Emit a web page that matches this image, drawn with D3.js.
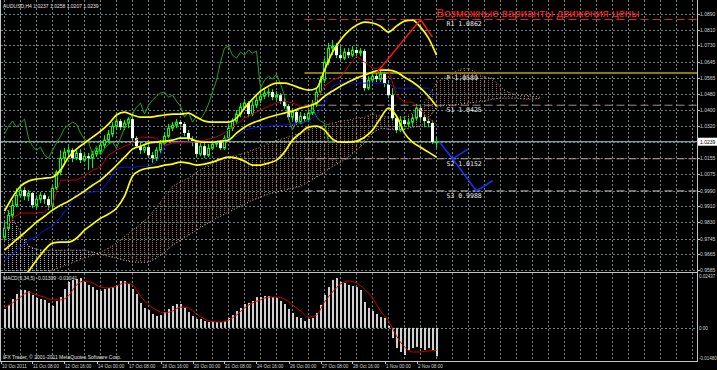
<!DOCTYPE html>
<html><head><meta charset="utf-8">
<script src="https://cdn.jsdelivr.net/npm/d3@7"></script>
<style>
html,body{margin:0;padding:0;background:#000;overflow:hidden}
svg{display:block}
</style></head><body>
<svg id="chart" width="717" height="370"></svg>
<script>
// ---------------- DATA ----------------
const chartTitle = "AUDUSD,H4  1.0237 1.0258 1.0207 1.0239";
const forecastTitle = "Возможные варианты движения цены";
const macdTitle = "MACD(5,34,5) -0.01309 -0.01041";
const copyrightText = "IFX Trader, © 2001-2011 MetaQuotes Software Corp.";

const xLabelBars = [0,8,16,24,32,40,48,56,64,72,80,88,96,104];
const xLabels = ["10 Oct 2011","11 Oct 08:00","12 Oct 16:00","14 Oct 00:00","17 Oct 08:00","18 Oct 16:00","20 Oct 00:00","21 Oct 08:00","24 Oct 16:00","26 Oct 00:00","27 Oct 08:00","28 Oct 16:00","1 Nov 00:00","2 Nov 08:00"];
const priceTicks = [1.0890,1.0810,1.0730,1.0645,1.0565,1.0480,1.0400,1.0320,1.0155,1.0075,0.9990,0.9910,0.9830,0.9745,0.9665,0.9585];
const currentPrice = 1.0239;
const macdTicks = [0.02437, 0.00, -0.01480];
const macdTickLabels = ["0.02437","0.00","-0.01480"];

const open = [0.9752,0.9798,0.9864,0.9915,0.9966,0.9992,0.9961,0.9977,0.9915,0.9946,
0.9966,0.9946,0.9915,1.0002,1.0084,1.0155,1.0186,1.0196,1.0155,1.0181,
1.0145,1.0165,1.0155,1.0176,1.0191,1.0221,1.0247,1.0278,1.0318,1.0344,
1.0313,1.0334,1.0354,1.0257,1.0216,1.0196,1.0211,1.0170,1.0155,1.0196,
1.0232,1.0267,1.0308,1.0323,1.0339,1.0329,1.0283,1.0252,1.0237,1.0176,
1.0216,1.0170,1.0206,1.0227,1.0237,1.0206,1.0257,1.0308,1.0344,1.0380,
1.0415,1.0436,1.0380,1.0425,1.0451,1.0471,1.0487,1.0492,1.0466,1.0476,
1.0446,1.0420,1.0364,1.0390,1.0339,1.0369,1.0354,1.0385,1.0431,1.0492,
1.0553,1.0645,1.0716,1.0726,1.0680,1.0665,1.0696,1.0680,1.0706,1.0691,
1.0701,1.0512,1.0553,1.0573,1.0558,1.0584,1.0533,1.0476,1.0359,1.0298,
1.0349,1.0329,1.0339,1.0359,1.0410,1.0364,1.0344,1.0334,1.0237];
const high = [0.9829,0.9890,0.9941,1.0002,1.0017,1.0007,0.9992,0.9982,0.9966,0.9982,
0.9977,0.9961,1.0012,1.0094,1.0196,1.0206,1.0216,1.0206,1.0196,1.0201,
1.0181,1.0181,1.0191,1.0206,1.0242,1.0272,1.0298,1.0339,1.0359,1.0354,
1.0349,1.0364,1.0364,1.0267,1.0237,1.0227,1.0221,1.0186,1.0211,1.0247,
1.0283,1.0329,1.0339,1.0354,1.0349,1.0339,1.0298,1.0267,1.0247,1.0232,
1.0232,1.0227,1.0242,1.0242,1.0247,1.0272,1.0329,1.0359,1.0400,1.0436,
1.0456,1.0446,1.0446,1.0471,1.0492,1.0507,1.0512,1.0507,1.0497,1.0487,
1.0461,1.0431,1.0410,1.0400,1.0390,1.0385,1.0400,1.0451,1.0512,1.0573,
1.0665,1.0742,1.0757,1.0742,1.0726,1.0716,1.0716,1.0726,1.0721,1.0716,
1.0711,1.0573,1.0594,1.0589,1.0599,1.0594,1.0553,1.0512,1.0375,1.0369,
1.0364,1.0354,1.0375,1.0431,1.0425,1.0380,1.0359,1.0349,1.0258];
const low = [0.9737,0.9788,0.9849,0.9905,0.9951,0.9941,0.9936,0.9900,0.9900,0.9926,
0.9921,0.9890,0.9890,0.9992,1.0068,1.0135,1.0165,1.0135,1.0145,1.0130,
1.0135,1.0094,1.0104,1.0160,1.0176,1.0206,1.0232,1.0262,1.0298,1.0298,
1.0298,1.0308,1.0247,1.0206,1.0176,1.0181,1.0155,1.0130,1.0140,1.0181,
1.0221,1.0257,1.0293,1.0308,1.0313,1.0267,1.0237,1.0216,1.0160,1.0165,
1.0155,1.0160,1.0196,1.0211,1.0196,1.0196,1.0247,1.0293,1.0329,1.0364,
1.0400,1.0364,1.0369,1.0410,1.0436,1.0456,1.0466,1.0451,1.0446,1.0431,
1.0405,1.0349,1.0349,1.0323,1.0329,1.0339,1.0339,1.0375,1.0415,1.0476,
1.0538,1.0629,1.0680,1.0665,1.0655,1.0655,1.0665,1.0670,1.0675,1.0675,
1.0497,1.0502,1.0538,1.0543,1.0543,1.0517,1.0461,1.0349,1.0283,1.0288,
1.0313,1.0313,1.0318,1.0349,1.0349,1.0313,1.0313,1.0227,1.0207];
const close = [0.9798,0.9864,0.9915,0.9966,0.9992,0.9961,0.9977,0.9915,0.9946,0.9966,
0.9946,0.9915,1.0002,1.0084,1.0155,1.0186,1.0196,1.0155,1.0181,1.0145,
1.0165,1.0155,1.0176,1.0191,1.0221,1.0247,1.0278,1.0318,1.0344,1.0313,
1.0334,1.0354,1.0257,1.0216,1.0196,1.0211,1.0170,1.0155,1.0196,1.0232,
1.0267,1.0308,1.0323,1.0339,1.0329,1.0283,1.0252,1.0237,1.0176,1.0216,
1.0170,1.0206,1.0227,1.0237,1.0206,1.0257,1.0308,1.0344,1.0380,1.0415,
1.0436,1.0380,1.0425,1.0451,1.0471,1.0487,1.0492,1.0466,1.0476,1.0446,
1.0420,1.0364,1.0390,1.0339,1.0369,1.0354,1.0385,1.0431,1.0492,1.0553,
1.0645,1.0716,1.0726,1.0680,1.0665,1.0696,1.0680,1.0706,1.0691,1.0701,
1.0512,1.0553,1.0573,1.0558,1.0584,1.0533,1.0476,1.0359,1.0298,1.0349,
1.0329,1.0339,1.0359,1.0410,1.0364,1.0344,1.0334,1.0237,1.0239];

// indicator samples, one value every 2 bars starting at bar 0
const bbUpper = [0.9885,0.9956,1.0012,1.0038,1.0048,1.0053,1.0058,1.0094,1.0160,1.0201,
1.0232,1.0262,1.0293,1.0329,1.0375,1.0390,1.0375,1.0364,1.0364,1.0369,
1.0375,1.0380,1.0380,1.0385,1.0364,1.0344,1.0339,1.0339,1.0339,1.0359,
1.0410,1.0456,1.0497,1.0522,1.0538,1.0538,1.0527,1.0512,1.0502,1.0512,
1.0604,1.0696,1.0757,1.0803,1.0833,1.0849,1.0844,1.0828,1.0798,1.0828,
1.0854,1.0859,1.0823,1.0767,1.0680];
const bbMiddle = [0.9686,0.9722,0.9757,0.9793,0.9829,0.9859,0.9890,0.9915,0.9936,0.9961,
0.9987,1.0017,1.0043,1.0079,1.0119,1.0160,1.0201,1.0216,1.0232,1.0237,
1.0242,1.0247,1.0257,1.0257,1.0242,1.0237,1.0237,1.0242,1.0247,1.0283,
1.0313,1.0334,1.0349,1.0364,1.0375,1.0385,1.0395,1.0410,1.0420,1.0436,
1.0471,1.0497,1.0522,1.0543,1.0563,1.0578,1.0594,1.0604,1.0604,1.0594,
1.0568,1.0543,1.0512,1.0471,1.0420];
const bbLower = [0.9431,0.9482,0.9528,0.9579,0.9635,0.9686,0.9722,0.9727,0.9727,0.9747,
0.9788,0.9819,0.9849,0.9870,0.9900,0.9961,1.0063,1.0094,1.0104,1.0109,
1.0120,1.0125,1.0135,1.0130,1.0120,1.0125,1.0135,1.0150,1.0160,1.0155,
1.0140,1.0120,1.0120,1.0130,1.0145,1.0186,1.0247,1.0283,1.0313,1.0318,
1.0298,1.0252,1.0237,1.0237,1.0242,1.0262,1.0298,1.0359,1.0410,1.0369,
1.0283,1.0237,1.0211,1.0186,1.0160];
const tenkan = [0.9788,0.9849,0.9875,0.9875,0.9875,0.9880,0.9921,1.0043,1.0043,1.0043,
1.0063,1.0094,1.0109,1.0170,1.0196,1.0216,1.0232,1.0262,1.0262,1.0257,
1.0221,1.0232,1.0232,1.0237,1.0242,1.0247,1.0257,1.0272,1.0298,1.0329,
1.0359,1.0380,1.0400,1.0420,1.0436,1.0446,1.0436,1.0420,1.0415,1.0451,
1.0522,1.0553,1.0568,1.0624,1.0675,1.0645,1.0614,1.0614,1.0604,1.0476,
1.0441,1.0441,1.0400,1.0359,1.0329];
const kijun = [0.9635,0.9666,0.9701,0.9737,0.9757,0.9788,0.9808,0.9854,0.9910,0.9977,
0.9982,0.9982,0.9987,1.0038,1.0104,1.0109,1.0109,1.0114,1.0114,1.0135,
1.0216,1.0232,1.0237,1.0237,1.0237,1.0237,1.0242,1.0247,1.0257,1.0267,
1.0298,1.0308,1.0313,1.0318,1.0323,1.0323,1.0329,1.0334,1.0344,1.0375,
1.0436,1.0522,1.0538,1.0538,1.0538,1.0538,1.0538,1.0538,1.0533,1.0512,
1.0512,1.0512,1.0512,1.0512,1.0471];
// Ichimoku cloud spans, every 2 bars from bar 0 to bar 134 (26 bars ahead)
const spanA = [0.9482,0.9492,0.9507,0.9523,0.9543,0.9564,0.9584,0.9599,0.9615,0.9630,
0.9645,0.9660,0.9676,0.9696,0.9722,0.9757,0.9788,0.9819,0.9854,0.9905,
0.9961,1.0012,1.0033,1.0053,1.0084,1.0109,1.0130,1.0145,1.0160,1.0170,
1.0181,1.0196,1.0211,1.0232,1.0247,1.0257,1.0272,1.0283,1.0298,1.0313,
1.0323,1.0334,1.0344,1.0349,1.0359,1.0364,1.0380,1.0369,1.0364,1.0364,
1.0364,1.0385,1.0410,1.0471,1.0538,1.0568,1.0589,1.0609,1.0614,1.0589,
1.0568,1.0563,1.0517,1.0492,1.0476,1.0476,1.0471,1.0466];
const spanB = [0.9915,0.9849,0.9778,0.9706,0.9691,0.9686,0.9686,0.9686,0.9686,0.9686,
0.9686,0.9676,0.9666,0.9655,0.9645,0.9635,0.9625,0.9625,0.9625,0.9645,
0.9676,0.9711,0.9737,0.9762,0.9788,0.9813,0.9839,0.9859,0.9880,0.9900,
0.9921,0.9941,0.9956,0.9972,0.9982,0.9992,1.0002,1.0012,1.0033,1.0058,
1.0084,1.0114,1.0135,1.0160,1.0196,1.0232,1.0283,1.0308,1.0303,1.0298,
1.0303,1.0313,1.0318,1.0359,1.0415,1.0425,1.0425,1.0431,1.0436,1.0441,
1.0446,1.0456,1.0461,1.0461,1.0461,1.0456,1.0456,1.0461];
const chikouShift = 26;

const macdHist = [0.0087,0.0106,0.0133,0.0156,0.0175,0.0175,0.0170,0.0152,0.0138,0.0133,
0.0129,0.0115,0.0101,0.0124,0.0142,0.0179,0.0212,0.0221,0.0225,0.0230,
0.0212,0.0198,0.0188,0.0175,0.0170,0.0179,0.0184,0.0188,0.0198,0.0216,
0.0216,0.0202,0.0179,0.0156,0.0115,0.0092,0.0082,0.0064,0.0055,0.0059,
0.0073,0.0087,0.0101,0.0110,0.0110,0.0092,0.0073,0.0055,0.0041,0.0041,
0.0032,0.0027,0.0027,0.0027,0.0027,0.0032,0.0046,0.0059,0.0078,0.0092,
0.0110,0.0115,0.0124,0.0142,0.0142,0.0147,0.0147,0.0142,0.0138,0.0124,
0.0110,0.0087,0.0069,0.0050,0.0046,0.0032,0.0041,0.0046,0.0069,0.0106,
0.0152,0.0188,0.0221,0.0230,0.0212,0.0207,0.0198,0.0193,0.0188,0.0175,
0.0119,0.0092,0.0078,0.0064,0.0050,0.0046,0.0009,-0.0047,-0.0093,-0.0111,
-0.0125,-0.0102,-0.0093,-0.0088,-0.0093,-0.0102,-0.0093,-0.0102,-0.0131];
const macdSignal = [0.0092,0.0115,0.0142,0.0165,0.0152,0.0142,0.0129,0.0129,0.0147,0.0198,
0.0216,0.0207,0.0188,0.0184,0.0193,0.0207,0.0198,0.0147,0.0106,0.0082,
0.0069,0.0078,0.0096,0.0092,0.0064,0.0041,0.0029,0.0027,0.0036,0.0059,
0.0092,0.0115,0.0129,0.0142,0.0142,0.0133,0.0106,0.0078,0.0050,0.0059,
0.0119,0.0165,0.0202,0.0216,0.0207,0.0179,0.0138,0.0078,0.0032,-0.0037,
-0.0088,-0.0111,-0.0111,-0.0106,-0.0104];

const pivotNames = ["R1","P","S1","S2","S3"];
const pivotValues = [1.0862,1.0589,1.0425,1.0152,0.9988];
const pivotColors = ["#c83030","#8a7818","#a88888","#c09a9a","#c8c0c0"];
const pivotStartBar = 75;
const pivotLabelBar = 110.5;
// drawn scenario lines: [bar, price]
const scenarioUp = [[93,1.0589],[104,1.0862],[107,1.0772]];
const scenarioDown1 = [[108.7,1.0239],[112,1.0152],[115.8,1.0200]];
const scenarioDown2 = [[112,1.0152],[118,0.9988],[122,1.0040]];

// ---------------- CHART ----------------
const svg = d3.select("#chart");
const defs = svg.append("defs");
const R = 697.5, mainBottom = 272, macdTopY = 273, macdBottom = 361;

const x = d3.scaleLinear().domain([0,108]).range([4.5,436.5]);
const y = d3.scaleLinear().domain([0.9585,1.0890]).range([270,14]);
const ym = d3.scaleLinear().domain([-0.0148,0.02437]).range([360,275]);
const sample2 = (arr) => arr.map((v,i)=>({bar:i*2, v}));

defs.append("clipPath").attr("id","mainClip").append("rect")
  .attr("x",1).attr("y",0).attr("width",R-1).attr("height",mainBottom);
defs.append("clipPath").attr("id","macdClip").append("rect")
  .attr("x",1).attr("y",macdTopY).attr("width",R-1).attr("height",macdBottom-macdTopY);

function dotPattern(id,color){
  const p = defs.append("pattern").attr("id",id).attr("patternUnits","userSpaceOnUse")
    .attr("x",4).attr("y",0).attr("width",4).attr("height",2);
  p.append("rect").attr("x",0).attr("y",0).attr("width",1).attr("height",1).attr("fill",color);
}
dotPattern("sandyDots","#a86a44");
dotPattern("thistleDots","#b8a8b8");

svg.append("rect").attr("width",717).attr("height",370).attr("fill","#000");

// grid
const gridBars = d3.range(0, 174, 4);
const grid = svg.append("g").attr("stroke","#6a8686").attr("stroke-width",1)
  .attr("stroke-dasharray","2,2").attr("shape-rendering","crispEdges");
gridBars.filter(b=>x(b)<R-1).forEach(b=>{
  grid.append("line").attr("x1",x(b)).attr("x2",x(b)).attr("y1",0).attr("y2",mainBottom);
  grid.append("line").attr("x1",x(b)).attr("x2",x(b)).attr("y1",macdTopY).attr("y2",macdBottom);
});
priceTicks.concat([currentPrice]).forEach(v=>{
  const yy = Math.round(y(v))+0.5;
  grid.append("line").attr("x1",1).attr("x2",R).attr("y1",yy).attr("y2",yy);
});
grid.append("line").attr("x1",1).attr("x2",R).attr("y1",Math.round(ym(0))+0.5).attr("y2",Math.round(ym(0))+0.5);

const main = svg.append("g").attr("clip-path","url(#mainClip)");

// Ichimoku cloud
const cloud = spanA.map((a,i)=>({bar:i*2, a, b:spanB[i]}));
const bandArea = d3.area().x(d=>x(d.bar)).y0(d=>y(d.a)).y1(d=>y(d.b));
defs.append("clipPath").attr("id","belowA").append("path")
  .attr("d", d3.area().x(d=>x(d.bar)).y0(d=>y(d.a)).y1(500)(cloud));
defs.append("clipPath").attr("id","aboveA").append("path")
  .attr("d", d3.area().x(d=>x(d.bar)).y0(-50).y1(d=>y(d.a))(cloud));
main.append("path").attr("d",bandArea(cloud)).attr("fill","url(#sandyDots)").attr("clip-path","url(#belowA)");
main.append("path").attr("d",bandArea(cloud)).attr("fill","url(#thistleDots)").attr("clip-path","url(#aboveA)");
main.append("path").attr("d",d3.line().x(d=>x(d.bar)).y(d=>y(d.a))(cloud))
  .attr("fill","none").attr("stroke","#d08a5c").attr("stroke-width",1).attr("stroke-dasharray","1,2");
main.append("path").attr("d",d3.line().x(d=>x(d.bar)).y(d=>y(d.b))(cloud))
  .attr("fill","none").attr("stroke","#d8bfd8").attr("stroke-width",1).attr("stroke-dasharray","1,2");

// pivot levels
pivotValues.forEach((v,i)=>{
  const yy = y(v);
  const ln = main.append("line").attr("x1",x(pivotStartBar)).attr("x2",R).attr("y1",yy).attr("y2",yy)
    .attr("stroke",pivotColors[i]);
  if (pivotNames[i]==="P") ln.attr("stroke-width",2);
  else ln.attr("stroke-width",1).attr("stroke-dasharray","8,4");
});

// current price line
main.append("line").attr("x1",1).attr("x2",R).attr("y1",y(currentPrice)).attr("y2",y(currentPrice))
  .attr("stroke","#9cc4c4").attr("stroke-width",1);

// candles
const candles = main.append("g");
close.forEach((c,i)=>{
  const cx = x(i), o = open[i];
  candles.append("line").attr("x1",cx).attr("x2",cx).attr("y1",y(high[i])).attr("y2",y(low[i]))
    .attr("stroke","#00ff00").attr("stroke-width",1);
  const top = y(Math.max(o,c)), bot = y(Math.min(o,c));
  if (c >= o) {
    candles.append("rect").attr("x",cx-1).attr("y",top).attr("width",2).attr("height",Math.max(bot-top,1))
      .attr("fill","#000").attr("stroke","#00ff00").attr("stroke-width",1);
  } else {
    candles.append("rect").attr("x",cx-1.5).attr("y",top).attr("width",3).attr("height",Math.max(bot-top,1))
      .attr("fill","#ffffff");
  }
});

// indicator lines
const smooth = d3.line().x(d=>x(d.bar)).y(d=>y(d.v)).curve(d3.curveMonotoneX);
const straight = d3.line().x(d=>x(d.bar)).y(d=>y(d.v));
const chikou = close.map((v,i)=>({bar:i-chikouShift, v})).filter(d=>d.bar>=0);
main.append("path").attr("d",straight(chikou)).attr("fill","none").attr("stroke","#22a022").attr("stroke-width",1);
main.append("path").attr("d",straight(sample2(kijun))).attr("fill","none").attr("stroke","#1010ee").attr("stroke-width",1);
main.append("path").attr("d",straight(sample2(tenkan))).attr("fill","none").attr("stroke","#c00000").attr("stroke-width",1);
[bbUpper,bbMiddle,bbLower].forEach(arr=>{
  main.append("path").attr("d",smooth(sample2(arr))).attr("fill","none").attr("stroke","#ffff00").attr("stroke-width",1.7);
});

// scenario lines
const scen = d3.line().x(d=>x(d[0])).y(d=>y(d[1]));
main.append("path").attr("d",scen(scenarioUp)).attr("fill","none").attr("stroke","#ff1414").attr("stroke-width",1.5);
[scenarioDown1,scenarioDown2].forEach(s=>{
  main.append("path").attr("d",scen(s)).attr("fill","none").attr("stroke","#1432ff").attr("stroke-width",1.5);
});

// pivot labels
pivotValues.forEach((v,i)=>{
  main.append("text").attr("x",x(pivotLabelBar)).attr("y",y(v)+7)
    .attr("font-family","DejaVu Sans Mono, monospace").attr("font-size",6.5).attr("fill","#eeeeee")
    .text(pivotNames[i]+" "+v.toFixed(4));
});
main.append("text").attr("x",x(108)).attr("y",17).attr("font-family","Liberation Sans, Arial, sans-serif")
  .attr("font-size",11.5).attr("fill","#ff2424").text(forecastTitle);

// MACD panel
const macd = svg.append("g").attr("clip-path","url(#macdClip)");
macdHist.forEach((v,i)=>{
  const y0 = ym(0), y1 = ym(v);
  macd.append("rect").attr("x",x(i)-0.5).attr("y",Math.min(y0,y1)).attr("width",2)
    .attr("height",Math.abs(y1-y0)).attr("fill","#d0d0d0");
});
macd.append("path").attr("d",d3.line().x(d=>x(d.bar)).y(d=>ym(d.v)).curve(d3.curveMonotoneX)(sample2(macdSignal)))
  .attr("fill","none").attr("stroke","#d00000").attr("stroke-width",1);

// frames
const frame = svg.append("g").attr("stroke","#c4c4c4").attr("stroke-width",1).attr("shape-rendering","crispEdges");
frame.append("line").attr("x1",0.5).attr("x2",0.5).attr("y1",0).attr("y2",macdBottom+0.5);
frame.append("line").attr("x1",R).attr("x2",R).attr("y1",0).attr("y2",macdBottom+0.5);
frame.append("line").attr("x1",0).attr("x2",R).attr("y1",mainBottom+0.5).attr("y2",mainBottom+0.5);
frame.append("line").attr("x1",0).attr("x2",R).attr("y1",macdBottom+0.5).attr("y2",macdBottom+0.5);

// right price axis
const axisFont = "Liberation Sans, Arial, sans-serif";
priceTicks.forEach(v=>{
  const yy = Math.round(y(v))+0.5;
  frame.append("line").attr("x1",R).attr("x2",R+2).attr("y1",yy).attr("y2",yy);
  svg.append("text").attr("x",700).attr("y",yy+1.8).attr("font-family",axisFont).attr("font-size",5)
    .attr("fill","#d4d4d4").text(v.toFixed(4));
});
const cy = y(currentPrice);
svg.append("rect").attr("x",698).attr("y",cy-4).attr("width",19).attr("height",8).attr("fill","#ffffff");
svg.append("text").attr("x",700).attr("y",cy+1.8).attr("font-family",axisFont).attr("font-size",5)
  .attr("fill","#000").text(currentPrice.toFixed(4));

macdTicks.forEach((v,i)=>{
  const yy = [276.5, Math.round(ym(0))+0.5, 358.5][i];
  svg.append("text").attr("x",699).attr("y",yy+1.8).attr("font-family",axisFont).attr("font-size",4.5)
    .attr("fill","#d4d4d4").text(macdTickLabels[i]);
});

// bottom time axis
xLabelBars.forEach((b,i)=>{
  const xx = Math.round(x(b)-4)+0.5;
  frame.append("line").attr("x1",xx).attr("x2",xx).attr("y1",macdBottom+0.5).attr("y2",macdBottom+3);
  svg.append("text").attr("x",xx+0.5).attr("y",367.5).attr("font-family",axisFont).attr("font-size",4.6)
    .attr("fill","#d4d4d4").text(xLabels[i]);
});

// titles
svg.append("text").attr("x",3).attr("y",8).attr("font-family",axisFont).attr("font-size",5)
  .attr("fill","#e0e0e0").text(chartTitle);
svg.append("text").attr("x",3).attr("y",280).attr("font-family",axisFont).attr("font-size",5)
  .attr("fill","#e0e0e0").text(macdTitle);
svg.append("text").attr("x",3).attr("y",358.5).attr("font-family",axisFont).attr("font-size",5)
  .attr("fill","#e0e0e0").text(copyrightText);
</script>
</body></html>
